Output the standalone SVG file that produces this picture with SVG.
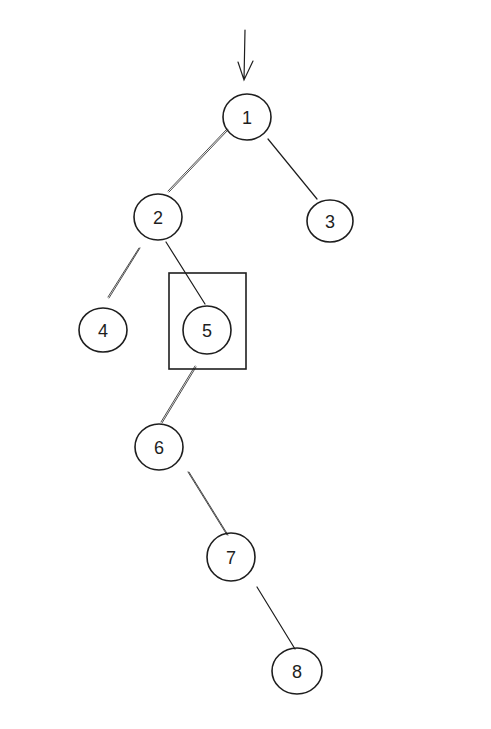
<svg xmlns="http://www.w3.org/2000/svg" width="491" height="729" viewBox="0 0 491 729">
<style>
.n{fill:none;stroke:#1e1e1e;stroke-width:1.6}
.e{fill:none;stroke:#1e1e1e;stroke-width:1.2;stroke-linecap:round}
.d{fill:none;stroke:#1e1e1e;stroke-width:0.8;stroke-linecap:round}
.t{font-family:"Liberation Sans",sans-serif;font-size:18px;fill:#1e1e1e;text-anchor:middle;dominant-baseline:central}
</style>
<rect width="491" height="729" fill="#ffffff"/>
<g id="connectors">
<path class="e" d="M245 30 L244 80 M238 62 L244 80 L253 61"/>
<path class="d" d="M227 129 L168 191 M228 130 L169 192"/>
<path class="e" d="M268 139 L317 199"/>
<path class="d" d="M139 248 L108 297 M140 248 L109 298"/>
<path class="e" d="M166 242 L205 304"/>
<path class="d" d="M195 366 L161 422 M196 367 L162 423"/>
<path class="d" d="M188 472 L227 535 M189 472 L228 535"/>
<path class="e" d="M257 587 L295 649"/>
</g>
<g id="box5"><rect class="n" x="169" y="273" width="77" height="96"/></g>
<g id="node1"><ellipse class="n" cx="247" cy="117" rx="24" ry="23"/><text class="t" x="247" y="118">1</text></g>
<g id="node2"><ellipse class="n" cx="158" cy="217" rx="24" ry="23"/><text class="t" x="158" y="218">2</text></g>
<g id="node3"><ellipse class="n" cx="330" cy="221" rx="23" ry="21"/><text class="t" x="330" y="222">3</text></g>
<g id="node4"><ellipse class="n" cx="103" cy="330" rx="24" ry="22"/><text class="t" x="103" y="331">4</text></g>
<g id="node5"><ellipse class="n" cx="207" cy="330" rx="24" ry="24"/><text class="t" x="207" y="331">5</text></g>
<g id="node6"><ellipse class="n" cx="159" cy="447" rx="24" ry="23"/><text class="t" x="159" y="448">6</text></g>
<g id="node7"><ellipse class="n" cx="231" cy="557" rx="24" ry="24"/><text class="t" x="231" y="558">7</text></g>
<g id="node8"><ellipse class="n" cx="297" cy="671" rx="25" ry="23"/><text class="t" x="297" y="672">8</text></g>
</svg>
